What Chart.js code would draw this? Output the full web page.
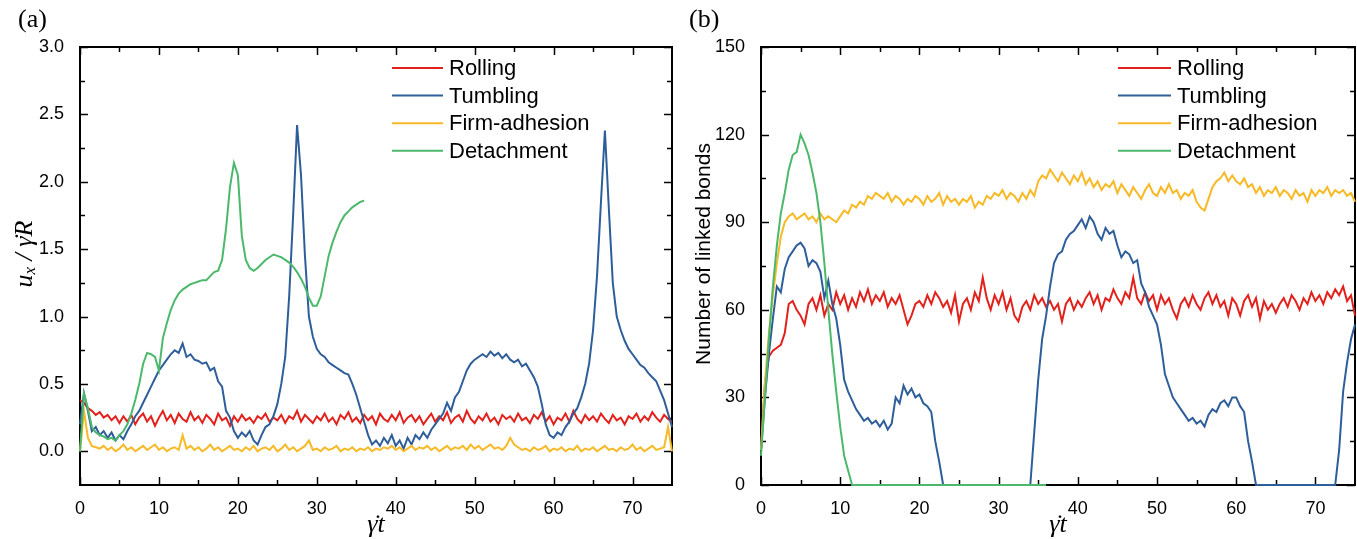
<!DOCTYPE html>
<html>
<head>
<meta charset="utf-8">
<script src="https://cdn.jsdelivr.net/npm/chart.js"></script>
<style>
  body { margin: 0; background: #fff; width: 1357px; height: 539px; position: relative; overflow: hidden; }
  #panelA { position: absolute; left: 0; top: 0; }
  #panelB { position: absolute; left: 680px; top: 0; }
</style>
</head>
<body>
<canvas id="panelA" width="680" height="539"></canvas>
<canvas id="panelB" width="677" height="539"></canvas>
<script>
// time axis (shear strain), shared by every series
const timeGrid = [
  0,0.5,1,1.5,2,2.5,3,3.5,4,4.5,5,5.5,6,6.5,7,7.5,8,8.5,9,9.5,
  10,10.5,11,11.5,12,12.5,13,13.5,14,14.5,15,15.5,16,16.5,17,17.5,18,18.5,19,19.5,
  20,20.5,21,21.5,22,22.5,23,23.5,24,24.5,25,25.5,26,26.5,27,27.5,28,28.5,29,29.5,
  30,30.5,31,31.5,32,32.5,33,33.5,34,34.5,35,35.5,36,36.5,37,37.5,38,38.5,39,39.5,
  40,40.5,41,41.5,42,42.5,43,43.5,44,44.5,45,45.5,46,46.5,47,47.5,48,48.5,49,49.5,
  50,50.5,51,51.5,52,52.5,53,53.5,54,54.5,55,55.5,56,56.5,57,57.5,58,58.5,59,59.5,
  60,60.5,61,61.5,62,62.5,63,63.5,64,64.5,65,65.5,66,66.5,67,67.5,68,68.5,69,69.5,
  70,70.5,71,71.5,72,72.5,73,73.5,74,74.5,75
];

const seriesNames = ['Rolling', 'Tumbling', 'Firm-adhesion', 'Detachment'];
const seriesColors = ['#e2211c', '#2e5e9a', '#f7b926', '#4cb86b'];

// (a) velocity u_x / (gamma R)
const rollingVel = [
  0.38,0.36,0.32,0.30,0.27,0.29,0.25,0.27,0.23,0.26,
  0.21,0.26,0.22,0.27,0.20,0.25,0.28,0.22,0.26,0.19,
  0.25,0.30,0.23,0.27,0.21,0.28,0.24,0.22,0.29,0.23,
  0.26,0.21,0.27,0.24,0.20,0.28,0.23,0.25,0.19,0.26,
  0.22,0.27,0.23,0.25,0.21,0.26,0.24,0.28,0.22,0.25,
  0.23,0.27,0.21,0.26,0.24,0.30,0.22,0.27,0.24,0.21,
  0.26,0.23,0.28,0.22,0.25,0.20,0.27,0.24,0.29,0.22,
  0.25,0.21,0.27,0.23,0.26,0.20,0.28,0.24,0.22,0.27,
  0.23,0.29,0.21,0.25,0.27,0.22,0.26,0.20,0.24,0.28,
  0.22,0.26,0.23,0.29,0.21,0.25,0.27,0.22,0.30,0.24,
  0.21,0.26,0.23,0.28,0.22,0.25,0.20,0.27,0.24,0.26,
  0.22,0.28,0.23,0.25,0.21,0.27,0.24,0.29,0.22,0.26,
  0.20,0.25,0.23,0.28,0.22,0.30,0.24,0.21,0.27,0.23,
  0.26,0.22,0.28,0.24,0.21,0.27,0.23,0.25,0.20,0.26,
  0.24,0.28,0.22,0.26,0.23,0.29,0.25,0.22,0.27,0.24,
  0.22
];
const tumblingVel = [
  0.20,0.43,0.30,0.15,0.18,0.12,0.15,0.10,0.14,0.08,
  0.12,0.09,0.15,0.20,0.26,0.30,0.36,0.42,0.48,0.54,
  0.60,0.64,0.68,0.72,0.75,0.73,0.80,0.70,0.72,0.68,
  0.67,0.65,0.66,0.60,0.62,0.52,0.48,0.30,0.25,0.15,
  0.10,0.14,0.11,0.15,0.08,0.05,0.12,0.18,0.20,0.26,
  0.35,0.50,0.70,1.15,1.75,2.42,2.05,1.45,1.00,0.85,
  0.76,0.72,0.70,0.66,0.64,0.62,0.60,0.58,0.57,0.50,
  0.42,0.32,0.22,0.12,0.05,0.08,0.04,0.10,0.06,0.12,
  0.04,0.08,0.02,0.10,0.05,0.12,0.09,0.14,0.10,0.16,
  0.20,0.24,0.28,0.36,0.30,0.40,0.44,0.52,0.60,0.65,
  0.68,0.70,0.72,0.70,0.74,0.71,0.73,0.69,0.72,0.68,
  0.66,0.68,0.63,0.65,0.60,0.55,0.48,0.35,0.20,0.12,
  0.10,0.14,0.12,0.18,0.22,0.28,0.32,0.40,0.50,0.65,
  0.90,1.30,1.85,2.38,1.80,1.25,1.00,0.90,0.82,0.76,
  0.72,0.68,0.64,0.62,0.58,0.55,0.52,0.45,0.38,0.28,
  0.18
];
const firmVel = [
  0.00,0.30,0.10,0.04,0.03,0.02,0.04,0.01,0.03,0.00,
  0.02,0.05,0.01,0.03,0.00,0.02,0.04,0.01,0.03,0.05,
  0.01,0.03,0.00,0.02,0.03,0.01,0.12,0.02,0.04,0.01,
  0.03,0.00,0.02,0.05,0.01,0.03,0.00,0.02,0.04,0.01,
  0.02,0.00,0.03,0.01,0.04,0.00,0.02,0.03,0.01,0.04,
  0.00,0.02,0.05,0.01,0.03,0.00,0.02,0.04,0.08,0.01,
  0.02,0.00,0.03,0.01,0.02,0.04,0.00,0.02,0.01,0.03,
  0.00,0.02,0.01,0.03,0.00,0.02,0.01,0.03,0.02,0.04,
  0.01,0.03,0.00,0.02,0.04,0.01,0.03,0.02,0.04,0.01,
  0.03,0.00,0.02,0.04,0.01,0.03,0.02,0.04,0.01,0.05,
  0.02,0.04,0.01,0.03,0.05,0.02,0.03,0.01,0.04,0.10,
  0.05,0.03,0.01,0.02,0.00,0.03,0.01,0.02,0.04,0.00,
  0.02,0.01,0.03,0.00,0.02,0.01,0.04,0.00,0.02,0.01,
  0.03,0.00,0.02,0.04,0.01,0.02,0.00,0.03,0.01,0.02,
  0.05,0.01,0.03,0.00,0.02,0.04,0.01,0.02,0.03,0.18,
  0.00
];
// detachment run stops at t = 36
const detachVel = [
  0.00,0.43,0.32,0.18,0.14,0.12,0.11,0.09,0.10,0.08,
  0.12,0.15,0.20,0.28,0.38,0.50,0.65,0.73,0.72,0.70,
  0.60,0.84,0.95,1.05,1.12,1.17,1.20,1.22,1.24,1.25,
  1.26,1.27,1.27,1.30,1.33,1.34,1.42,1.65,1.96,2.14,
  2.05,1.60,1.42,1.36,1.34,1.36,1.39,1.42,1.44,1.46,
  1.45,1.44,1.42,1.40,1.37,1.33,1.28,1.22,1.14,1.08,
  1.08,1.15,1.30,1.45,1.55,1.63,1.70,1.75,1.78,1.81,
  1.83,1.85,1.86
];

// (b) number of linked bonds
const rollingBonds = [
  12,35,44,46,47,48,52,62,63,60,
  58,55,62,64,60,65,58,62,60,66,
  62,65,60,64,61,66,63,67,62,65,
  63,66,61,64,62,65,60,55,58,62,
  63,61,65,62,66,64,61,63,59,65,
  56,62,64,60,66,63,71,64,60,65,
  62,66,60,64,58,56,61,63,60,65,
  62,64,61,63,60,62,56,62,64,60,
  63,61,64,66,62,65,60,64,63,67,
  64,62,66,64,71,64,62,66,63,65,
  60,65,62,64,60,57,62,64,61,65,
  62,60,64,66,62,65,61,63,58,64,
  62,58,63,65,61,64,57,63,60,62,
  59,62,64,61,65,63,60,64,62,66,
  63,65,62,66,64,67,65,68,63,65,
  58
];
const tumblingBonds = [
  12,30,45,57,68,66,74,78,80,82,
  83,81,75,77,76,73,64,70,62,57,
  48,36,32,29,26,24,22,23,21,22,
  20,22,19,21,30,28,34,31,33,30,
  31,28,27,25,15,8,0,0,0,0,
  0,0,0,0,0,0,0,0,0,0,
  0,0,0,0,0,0,0,0,0,18,
  36,50,58,68,76,79,80,84,86,87,
  89,91,88,92,90,86,84,88,86,87,
  82,78,80,79,76,77,69,66,61,58,
  55,48,38,34,30,28,26,24,22,23,
  21,22,20,24,26,25,28,29,27,30,
  30,27,25,15,8,0,0,0,0,0,
  0,0,0,0,0,0,0,0,0,0,
  0,0,0,0,0,0,12,32,42,50,
  55
];
const firmBonds = [
  12,35,52,65,76,85,90,92,93,91,
  92,93,91,92,90,93,91,92,91,90,
  92,94,93,96,95,97,96,99,98,100,
  99,98,100,97,99,98,96,98,97,99,
  98,96,99,97,98,100,96,99,97,98,
  96,98,97,99,95,97,96,99,98,100,
  99,101,98,100,99,97,100,98,101,99,
  104,106,105,108,106,104,107,105,103,106,
  104,107,103,105,102,104,101,103,102,104,
  100,103,101,99,102,100,98,101,103,100,
  99,102,100,103,100,101,98,100,99,101,
  97,95,94,98,102,104,105,107,104,106,
  104,103,105,102,103,100,102,99,101,100,
  102,99,101,100,98,101,99,100,97,101,
  99,101,100,102,99,101,100,101,99,100,
  97
];
const detachBonds = [
  10,30,50,68,82,93,100,108,113,114,
  120,117,113,107,100,90,76,60,45,32,
  20,10,5,0,0,0,0,0,0,0,
  0,0,0,0,0,0,0,0,0,0,
  0,0,0,0,0,0,0,0,0,0,
  0,0,0,0,0,0,0,0,0,0,
  0,0,0,0,0,0,0,0,0,0,
  0,0,0
];

const xMajorTicks = [0, 10, 20, 30, 40, 50, 60, 70];
const xMinorTicks = [5, 15, 25, 35, 45, 55, 65];
const velMajorTicks = [0, 0.5, 1.0, 1.5, 2.0, 2.5, 3.0];
const velMinorTicks = [0.25, 0.75, 1.25, 1.75, 2.25, 2.75];
const bondMajorTicks = [0, 30, 60, 90, 120, 150];
const bondMinorTicks = [15, 45, 75, 105, 135];

function toPoints(values) {
  return values.map((v, i) => ({x: timeGrid[i], y: v}));
}

function buildDatasets(list) {
  return list.map((vals, i) => ({
    label: seriesNames[i],
    data: toPoints(vals),
    borderColor: seriesColors[i],
    backgroundColor: seriesColors[i],
    borderWidth: 2,
    pointRadius: 0,
    tension: 0,
    clip: 2,
    order: 4 - i
  }));
}

// draws a row of text pieces centred on (cx, cy); a piece with dot:true gets an overdot
function drawRuns(ctx, runs, cx, cy) {
  let w = 0;
  runs.forEach(r => { ctx.font = r.font; w += ctx.measureText(r.text).width; });
  let x = cx - w / 2;
  runs.forEach(r => {
    ctx.font = r.font;
    const rw = ctx.measureText(r.text).width;
    ctx.textAlign = 'left';
    ctx.fillText(r.text, x, cy + (r.dy || 0));
    if (r.dot) {
      ctx.textAlign = 'center';
      ctx.fillText('\u02D9', x + rw / 2 + 4, cy + (r.dy || 0));
      ctx.textAlign = 'left';
    }
    x += rw;
  });
}

const frame = {
  id: 'frame',
  beforeDatasetsDraw(chart, args, o) {
    const ctx = chart.ctx;
    const a = chart.chartArea;
    const xs = chart.scales.x, ys = chart.scales.y;
    ctx.save();
    ctx.strokeStyle = '#000';
    ctx.lineWidth = 1.5;
    const seg = (x1, y1, x2, y2) => { ctx.beginPath(); ctx.moveTo(x1, y1); ctx.lineTo(x2, y2); ctx.stroke(); };
    const xTick = (v, len) => {
      const p = Math.round(xs.getPixelForValue(v)) + 0.5;
      seg(p, a.bottom, p, a.bottom - len);
      seg(p, a.top, p, a.top + len);
    };
    const yTick = (v, len) => {
      const p = Math.round(ys.getPixelForValue(v)) + 0.5;
      seg(a.left, p, a.left + len, p);
      seg(a.right, p, a.right - len, p);
    };
    xMajorTicks.forEach(v => xTick(v, 8));
    xMinorTicks.forEach(v => xTick(v, 5));
    o.yMajor.forEach(v => yTick(v, 8));
    o.yMinor.forEach(v => yTick(v, 5));
    ctx.lineWidth = 2;
    ctx.strokeRect(a.left, a.top, a.right - a.left, a.bottom - a.top);
    ctx.restore();
  }
};

const decorations = {
  id: 'decorations',
  afterDraw(chart, args, o) {
    const ctx = chart.ctx;
    const a = chart.chartArea;
    ctx.save();
    const seg = (x1, y1, x2, y2) => { ctx.beginPath(); ctx.moveTo(x1, y1); ctx.lineTo(x2, y2); ctx.stroke(); };

    // legend
    ctx.textBaseline = 'middle';
    ctx.textAlign = 'left';
    ctx.font = '22px "Liberation Sans", Arial, sans-serif';
    chart.data.datasets.forEach((ds, i) => {
      const yy = o.legendTop + i * 27.6;
      ctx.strokeStyle = ds.borderColor;
      ctx.lineWidth = 2;
      seg(o.legendX0, yy, o.legendX1, yy);
      ctx.fillStyle = '#000';
      ctx.fillText(ds.label, o.legendX1 + 6, yy + 1);
    });

    // panel tag
    ctx.fillStyle = '#000';
    ctx.textBaseline = 'alphabetic';
    ctx.font = '26px "Liberation Serif", "Times New Roman", serif';
    ctx.fillText(o.tag, o.tagX, 27);

    // x title
    ctx.textBaseline = 'middle';
    const it = 'italic 26px "Liberation Serif", serif';
    drawRuns(ctx, [{text: '\u03B3', font: it, dot: true}, {text: 't', font: it}], (a.left + a.right) / 2, 525);

    // y title
    ctx.save();
    ctx.translate(o.yTitleX, 254);
    ctx.rotate(-Math.PI / 2);
    drawRuns(ctx, o.yTitle, 0, 0);
    ctx.restore();
    ctx.restore();
  }
};

function makeChart(id, datasets, yMin, yMax, yMajor, yMinor, yFmt, deco, sizes) {
  return new Chart(document.getElementById(id), {
    type: 'line',
    data: {datasets: datasets},
    options: {
      animation: false,
      responsive: false,
      layout: {padding: {top: 47, right: sizes.right, left: 0, bottom: 0}},
      plugins: {
        legend: {display: false},
        tooltip: {enabled: false},
        frame: {yMajor: yMajor, yMinor: yMinor},
        decorations: deco
      },
      scales: {
        x: {
          type: 'linear',
          min: 0,
          max: 75,
          afterBuildTicks: s => { s.ticks = xMajorTicks.map(v => ({value: v})); },
          afterFit: s => { s.height = 54; },
          grid: {display: false},
          border: {display: false},
          ticks: {
            color: '#000',
            padding: 5,
            maxRotation: 0,
            font: {family: '"Liberation Sans", Arial, sans-serif', size: 18},
            callback: v => String(v)
          }
        },
        y: {
          type: 'linear',
          min: yMin,
          max: yMax,
          afterBuildTicks: s => { s.ticks = yMajor.map(v => ({value: v})); },
          afterFit: s => { s.width = sizes.left; },
          grid: {display: false},
          border: {display: false},
          ticks: {
            color: '#000',
            padding: 8,
            font: {family: '"Liberation Sans", Arial, sans-serif', size: 18},
            callback: yFmt
          }
        }
      }
    },
    plugins: [frame, decorations, {
      id: 'whiteBg',
      beforeDraw: (chart) => {
        const ctx = chart.canvas.getContext('2d');
        ctx.save();
        ctx.fillStyle = 'white';
        ctx.fillRect(0, 0, chart.canvas.width, chart.canvas.height);
        ctx.restore();
      }
    }]
  });
}

const serifIt = 'italic 26px "Liberation Serif", "Times New Roman", serif';
const chartA = makeChart('panelA',
  buildDatasets([rollingVel, tumblingVel, firmVel, detachVel]),
  -0.25, 3.0, velMajorTicks, velMinorTicks, v => v.toFixed(1),
  {
    tag: '(a)', tagX: 18, legendX0: 392, legendX1: 443, legendTop: 68, yTitleX: 25,
    yTitle: [
      {text: 'u', font: serifIt},
      {text: 'x', font: 'italic 17px "Liberation Serif", serif', dy: 6},
      {text: ' / ', font: serifIt},
      {text: '\u03B3', font: serifIt, dot: true},
      {text: 'R', font: serifIt}
    ]
  },
  {left: 80, right: 8});

const chartB = makeChart('panelB',
  buildDatasets([rollingBonds, tumblingBonds, firmBonds, detachBonds]),
  0, 150, bondMajorTicks, bondMinorTicks, v => String(v),
  {
    tag: '(b)', tagX: 9, legendX0: 438, legendX1: 491, legendTop: 68, yTitleX: 24,
    yTitle: [{text: 'Number of linked bonds', font: '21px "Liberation Sans", Arial, sans-serif'}]
  },
  {left: 81, right: 2});
</script>
</body>
</html>
